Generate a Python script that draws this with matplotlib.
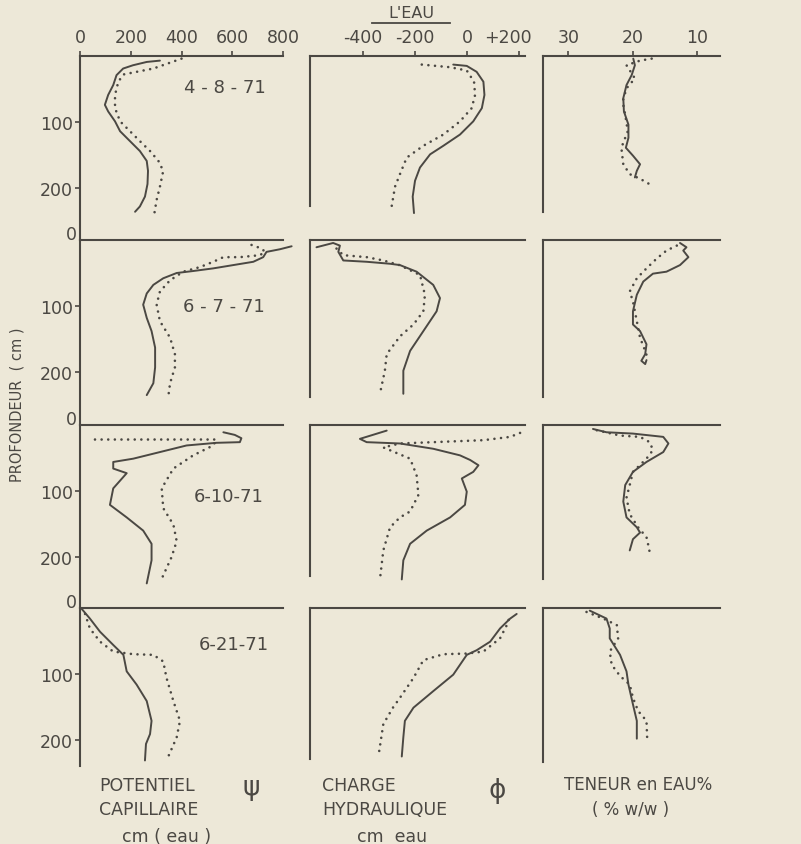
import matplotlib.pyplot as plt
from matplotlib.lines import Line2D
from matplotlib.transforms import ScaledTranslation

W, H = 801, 845
INK = '#4b4843'
PAPER = '#ede8d8'

dates = ['4 - 8 - 71', '6 - 7 - 71', '6-10-71', '6-21-71']

# potentiel capillaire psi, cm (eau) : (profondeur cm, valeur)
psi_solid_1 = [(7, 315), (9, 263), (14, 209), (19, 170), (29, 144), (44, 131), (59, 111), (74, 98),
               (84, 111), (99, 138), (114, 158), (129, 197), (144, 236), (159, 263), (174, 268),
               (194, 266), (213, 256), (228, 236), (236, 217)]
psi_dot_1 = [(4, 400), (12, 341), (19, 289), (24, 223), (28, 171), (39, 151), (59, 138), (79, 138),
             (99, 158), (114, 197), (129, 236), (144, 276), (159, 309), (174, 328), (198, 315),
             (218, 302), (241, 292)]
psi_solid_2 = [(9.5, 834), (14, 788), (18, 735), (26, 722), (33, 683), (38, 604), (43, 525), (47, 446),
               (50, 381), (58, 328), (68, 289), (81, 263), (98, 249), (118, 263), (138, 282),
               (163, 296), (193, 296), (217, 289), (235, 263)]
psi_dot_2 = [(7.5, 676), (13, 716), (18, 729), (23, 709), (26, 630), (26, 565), (33, 525), (41, 473),
             (48, 407), (61, 355), (78, 315), (98, 302), (123, 315), (148, 355), (173, 374),
             (193, 374), (217, 355), (237, 348)]
psi_solid_3 = [(11, 565), (15, 610), (20, 636), (26, 630), (27, 538), (31, 420), (41, 315), (51, 210),
               (56, 131), (66, 131), (73, 184), (96, 131), (121, 118), (140, 184), (160, 249),
               (180, 282), (205, 282), (240, 263)]
psi_dot_3 = [(22, 59), (22, 300), (22, 538), (31, 525), (46, 446), (66, 368), (96, 322), (126, 328),
             (151, 368), (176, 381), (200, 361), (233, 322)]
psi_solid_4 = [(1.5, 7), (16, 39), (36, 79), (56, 131), (71, 171), (96, 184), (116, 223), (141, 263),
               (171, 282), (191, 276), (206, 260), (231, 256)]
psi_dot_4 = [(9, 20), (31, 39), (51, 79), (66, 131), (70, 210), (71, 289), (81, 328), (106, 341),
             (141, 368), (171, 394), (196, 381), (225, 348)]

# charge hydraulique phi, cm eau
phi_solid_1 = [(13, -53), (15, -1), (24, 37), (39, 63), (59, 67), (79, 57), (99, 24), (119, -27),
               (136, -91), (149, -142), (169, -181), (189, -200), (213, -209), (238, -204)]
phi_dot_1 = [(13, -174), (17, -65), (22, -1), (39, 27), (59, 31), (79, 18), (99, -27), (119, -91),
             (136, -168), (154, -232), (179, -258), (198, -277), (228, -290)]
phi_solid_2 = [(11, -579), (4.5, -515), (8.5, -489), (18, -495), (31, -476), (33, -386), (36, -296),
               (38, -258), (48, -194), (68, -130), (88, -104), (108, -117), (138, -168), (168, -219),
               (198, -245), (233, -245)]
phi_dot_2 = [(13, -502), (23, -476), (26, -386), (31, -322), (38, -260), (53, -181), (83, -162),
             (108, -168), (128, -206), (146, -258), (153, -271), (173, -309), (198, -316), (233, -335)]
phi_solid_3 = [(8.5, -309), (21, -412), (26, -386), (28, -258), (36, -130), (46, -27), (53, 12),
               (61, 44), (71, 24), (81, -20), (101, -1), (121, -8), (140, -65), (160, -155),
               (180, -219), (205, -245), (234, -251)]
phi_dot_3 = [(12, 204), (18, 166), (23, 63), (26, -130), (28, -258), (34, -322), (51, -219),
             (76, -194), (106, -187), (131, -219), (140, -258), (155, -296), (190, -322), (234, -335)]
phi_solid_4 = [(9, 191), (16, 166), (31, 127), (51, 89), (64, 37), (71, -1), (101, -53), (126, -130),
               (151, -206), (171, -239), (196, -245), (225, -251)]
phi_dot_4 = [(18, 160), (26, 153), (46, 127), (66, 63), (69, -1), (70, -91), (79, -168), (106, -206),
             (136, -258), (151, -285), (176, -322), (225, -341)]

# teneur en eau % (w/w)
ten_solid_1 = [(4, 19.95), (14, 19.7), (29, 20.2), (44, 21), (64, 21.5), (84, 21.4), (104, 20.7),
               (124, 20.7), (139, 21.1), (151, 20), (164, 18.9), (174, 19.4), (184, 19.7)]
ten_dot_1 = [(4, 17.1), (7, 18.9), (14, 21), (34, 19.7), (49, 21), (69, 21.6), (89, 21.2),
             (114, 20.8), (139, 21.8), (164, 21.5), (179, 20.5), (186, 18.9), (196, 17.1)]
ten_solid_2 = [(4.5, 12.7), (11, 11.7), (16, 12.2), (26, 11.4), (38, 12.7), (48, 14.8), (51, 16.9),
               (63, 18.4), (83, 19.4), (108, 20), (128, 20), (138, 18.9), (158, 17.9), (173, 18.1),
               (183, 18.7), (188, 18.1), (182, 17.9)]
ten_dot_2 = [(8.5, 13.2), (16, 14.8), (28, 16.3), (43, 17.9), (58, 19.4), (78, 20.5), (93, 20),
             (123, 19.4), (148, 18.9), (168, 18.1), (183, 17.6)]
ten_solid_3 = [(6, 26.2), (11, 24.1), (13, 20), (18, 15.3), (28, 14.5), (41, 15.3), (56, 17.9),
               (71, 20), (91, 21.2), (116, 21.5), (140, 21), (155, 19.4), (163, 18.9), (173, 20),
               (190, 20.5)]
ten_dot_3 = [(8, 25.6), (16, 22), (18, 18.9), (26, 17.4), (38, 16.9), (51, 17.9), (71, 20),
             (91, 20.5), (110, 21), (135, 20.5), (155, 19.2), (170, 17.9), (183, 17.6), (193, 17.4)]
ten_solid_4 = [(4, 26.7), (16, 24.1), (31, 23.6), (46, 23.6), (71, 22), (96, 21), (116, 20.7),
               (146, 20), (171, 19.4), (198, 19.4)]
ten_dot_4 = [(6, 27.2), (16, 24.6), (26, 22.5), (46, 22.3), (66, 23.6), (86, 23.3), (103, 22),
             (116, 20.5), (136, 20), (156, 19.2), (171, 17.9), (196, 17.8)]

psi_ticks = [0, 200, 400, 600, 800]
phi_ticks = [-400, -200, 0, 200]
phi_labels = ['-400', '-200', '0', '+200']
ten_ticks = [30, 20, 10]
depth_ticks = [100, 200]

series = [
    [(psi_solid_1, psi_dot_1), (phi_solid_1, phi_dot_1), (ten_solid_1, ten_dot_1)],
    [(psi_solid_2, psi_dot_2), (phi_solid_2, phi_dot_2), (ten_solid_2, ten_dot_2)],
    [(psi_solid_3, psi_dot_3), (phi_solid_3, phi_dot_3), (ten_solid_3, ten_dot_3)],
    [(psi_solid_4, psi_dot_4), (phi_solid_4, phi_dot_4), (ten_solid_4, ten_dot_4)],
]

plt.rcParams['font.family'] = 'DejaVu Sans'
fig = plt.figure(figsize=(W / 100, H / 100), dpi=100, facecolor=PAPER)


def box(x, y, w, h):
    # pixel box (top-left origin) -> figure fraction
    return [x / W, 1 - (y + h) / H, w / W, h / H]


def ftext(x, y, s, **kw):
    kw.setdefault('color', INK)
    kw.setdefault('ha', 'center')
    kw.setdefault('va', 'center')
    fig.text(x / W, 1 - y / H, s, **kw)


px_per_cm = 0.66
tops = [57, 241, 426, 609]
cols = [
    dict(x=80, w=203, xlim=(0, 800), h=[184, 185, 183, 158]),
    dict(x=310, w=215, xlim=(-604, 223), h=[150, 157, 151, 151]),
    dict(x=543, w=177, xlim=(33.95, 6.5), h=[156, 157, 154, 154]),
]

for r, top in enumerate(tops):
    for c, col in enumerate(cols):
        h = col['h'][r]
        ax = fig.add_axes(box(col['x'], top, col['w'], h))
        ax.set_facecolor('none')
        ax.set_xlim(*col['xlim'])
        ax.set_ylim(h / px_per_cm, 0)
        for side in ['right', 'bottom']:
            ax.spines[side].set_visible(False)
        for side in ['top', 'left']:
            ax.spines[side].set_color(INK)
            ax.spines[side].set_linewidth(1.5)
        ax.xaxis.tick_top()
        ax.tick_params(colors=INK, direction='out', length=3.6, width=1.2, labelsize=12.5)
        ax.tick_params(axis='x', pad=3.5)
        ax.tick_params(axis='y', pad=1.5)

        if r == 0:
            if c == 0:
                ax.set_xticks(psi_ticks)
            elif c == 1:
                ax.set_xticks(phi_ticks, phi_labels)
                lab = ax.get_xticklabels()[-1]
                lab.set_transform(lab.get_transform() +
                                  ScaledTranslation(-0.11, 0, fig.dpi_scale_trans))
            else:
                ax.set_xticks(ten_ticks)
        else:
            ax.set_xticks([])

        if c == 0:
            ax.set_yticks(depth_ticks)
        else:
            ax.set_yticks([])

        solid, dot = series[r][c]
        ax.plot([p[1] for p in solid], [p[0] for p in solid], color=INK, lw=1.4,
                solid_joinstyle='round', solid_capstyle='round', clip_on=False)
        ax.plot([p[1] for p in dot], [p[0] for p in dot], color=INK, lw=1.9,
                linestyle=(0, (0.01, 2.5)), dash_capstyle='round', clip_on=False)

    if r > 0:
        ftext(77, top - 6, '0', ha='right', fontsize=12.5)

# dates
date_pos = [(225, 88), (224, 307), (229, 497), (234, 645)]
for d, (x, y) in zip(dates, date_pos):
    ftext(x, y, d, fontsize=13)

# titre
ftext(411, 14, "L'EAU", fontsize=11.5)
fig.add_artist(Line2D([372 / W, 450 / W], [1 - 23.5 / H, 1 - 23.5 / H], color=INK, lw=1.3,
                      transform=fig.transFigure))

ftext(17, 405, 'PROFONDEUR  ( cm )', rotation=90, fontsize=10.5)

# legendes du bas
ftext(147, 786, 'POTENTIEL', fontsize=12.5)
ftext(149, 810, 'CAPILLAIRE', fontsize=12.5)
ftext(167, 837, 'cm ( eau )', fontsize=12.5)
ftext(251, 788, '\u03c8', fontsize=19)

ftext(322, 786, 'CHARGE', ha='left', fontsize=12.5)
ftext(322, 810, 'HYDRAULIQUE', ha='left', fontsize=12.5)
ftext(392, 837, 'cm  eau', fontsize=12.5)
ftext(497, 791, '\u03d5', fontsize=19)

ftext(638, 785, 'TENEUR en EAU%', fontsize=12)
ftext(631, 810, '( % w/w )', fontsize=12)

fig.savefig('out.png', dpi=100, facecolor=PAPER)
